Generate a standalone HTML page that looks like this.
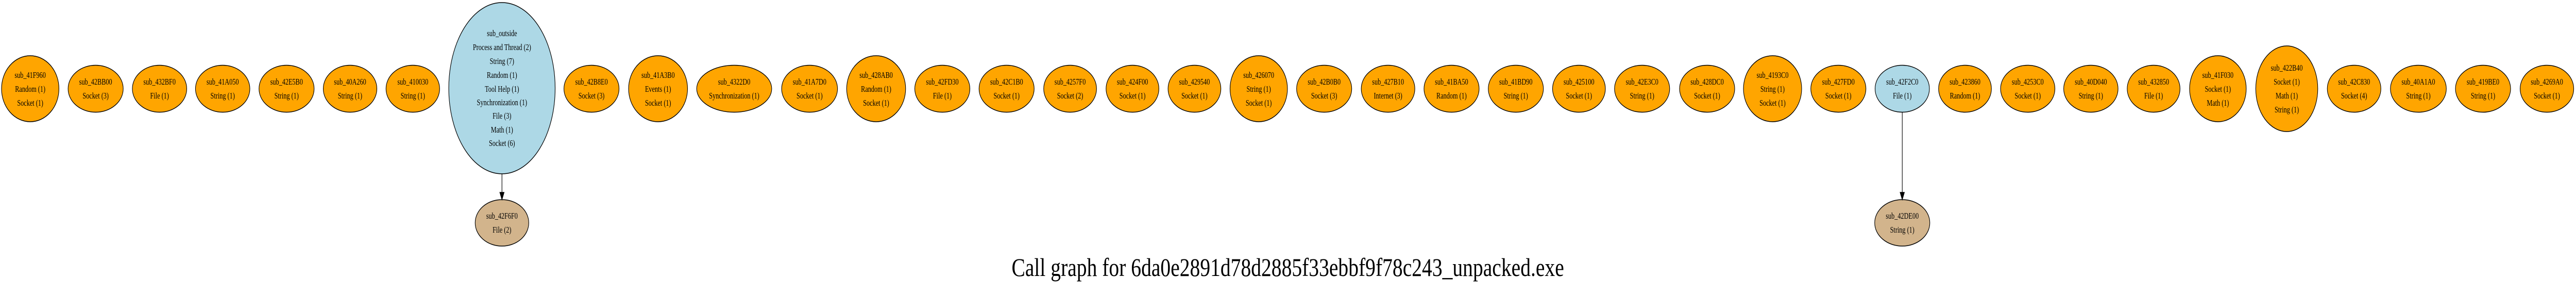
<!DOCTYPE html>
<html><head><meta charset="utf-8"><style>html,body{margin:0;padding:0;background:#fff;width:100%;height:100%;overflow:hidden;}svg{display:block;width:100vw;height:100vh;}</style></head>
<body>
<svg xmlns="http://www.w3.org/2000/svg" viewBox="0 0 6733 568" preserveAspectRatio="none" font-family="'Liberation Serif', serif" font-size="16.5" text-anchor="middle">
<rect width="6733" height="568" fill="#fff"/>
<g stroke="#000" stroke-width="1.5">
<ellipse cx="79" cy="172" rx="75" ry="64" fill="#FFA500"/>
<ellipse cx="250" cy="172" rx="72" ry="45.5" fill="#FFA500"/>
<ellipse cx="417" cy="172" rx="71" ry="45.5" fill="#FFA500"/>
<ellipse cx="582" cy="172" rx="71" ry="45.5" fill="#FFA500"/>
<ellipse cx="749" cy="172" rx="72" ry="45.5" fill="#FFA500"/>
<ellipse cx="915" cy="172" rx="70" ry="45.5" fill="#FFA500"/>
<ellipse cx="1079" cy="172" rx="70" ry="45.5" fill="#FFA500"/>
<ellipse cx="1312" cy="171" rx="139" ry="166" fill="#ADD8E6"/>
<ellipse cx="1312" cy="432" rx="70" ry="45" fill="#D2B48C"/>
<ellipse cx="1546" cy="172" rx="72" ry="45.5" fill="#FFA500"/>
<ellipse cx="1720" cy="172" rx="77" ry="64" fill="#FFA500"/>
<ellipse cx="1919" cy="172" rx="98" ry="45.5" fill="#FFA500"/>
<ellipse cx="2116" cy="172" rx="73" ry="45.5" fill="#FFA500"/>
<ellipse cx="2290" cy="172" rx="77" ry="64" fill="#FFA500"/>
<ellipse cx="2463" cy="172" rx="72" ry="45.5" fill="#FFA500"/>
<ellipse cx="2631" cy="172" rx="72" ry="45.5" fill="#FFA500"/>
<ellipse cx="2797" cy="172" rx="69" ry="45.5" fill="#FFA500"/>
<ellipse cx="2960" cy="172" rx="69" ry="45.5" fill="#FFA500"/>
<ellipse cx="3122" cy="172" rx="69" ry="45.5" fill="#FFA500"/>
<ellipse cx="3290" cy="172" rx="75" ry="64" fill="#FFA500"/>
<ellipse cx="3461" cy="172" rx="72" ry="45.5" fill="#FFA500"/>
<ellipse cx="3628" cy="172" rx="70" ry="45.5" fill="#FFA500"/>
<ellipse cx="3794" cy="172" rx="72" ry="45.5" fill="#FFA500"/>
<ellipse cx="3962" cy="172" rx="72" ry="45.5" fill="#FFA500"/>
<ellipse cx="4127" cy="172" rx="69" ry="45.5" fill="#FFA500"/>
<ellipse cx="4292" cy="172" rx="72" ry="45.5" fill="#FFA500"/>
<ellipse cx="4462" cy="172" rx="72" ry="45.5" fill="#FFA500"/>
<ellipse cx="4633" cy="172" rx="76" ry="64" fill="#FFA500"/>
<ellipse cx="4805" cy="172" rx="72" ry="45.5" fill="#FFA500"/>
<ellipse cx="4972" cy="172" rx="71" ry="45.5" fill="#ADD8E6"/>
<ellipse cx="4972" cy="432" rx="72" ry="45" fill="#D2B48C"/>
<ellipse cx="5136" cy="172" rx="69" ry="45.5" fill="#FFA500"/>
<ellipse cx="5300" cy="172" rx="71" ry="45.5" fill="#FFA500"/>
<ellipse cx="5465" cy="172" rx="71" ry="45.5" fill="#FFA500"/>
<ellipse cx="5629" cy="172" rx="69" ry="45.5" fill="#FFA500"/>
<ellipse cx="5797" cy="172" rx="74" ry="64" fill="#FFA500"/>
<ellipse cx="5977" cy="172" rx="81" ry="83" fill="#FFA500"/>
<ellipse cx="6153" cy="172" rx="70" ry="45.5" fill="#FFA500"/>
<ellipse cx="6321" cy="172" rx="73" ry="45.5" fill="#FFA500"/>
<ellipse cx="6490" cy="172" rx="72" ry="45.5" fill="#FFA500"/>
<ellipse cx="6657" cy="172" rx="70" ry="45.5" fill="#FFA500"/>
<line x1="1312" y1="337" x2="1312" y2="373"/>
<polygon points="1306.5,373 1317.5,373 1312,387" fill="#000"/>
<line x1="4972" y1="217" x2="4972" y2="373"/>
<polygon points="4966.5,373 4977.5,373 4972,387" fill="#000"/>
</g>
<g fill="#000">
<text x="79" y="151">sub_41F960</text><text x="79" y="178">Random (1)</text><text x="79" y="205">Socket (1)</text>
<text x="250" y="164">sub_42BB00</text><text x="250" y="191">Socket (3)</text>
<text x="417" y="164">sub_432BF0</text><text x="417" y="191">File (1)</text>
<text x="582" y="164">sub_41A050</text><text x="582" y="191">String (1)</text>
<text x="749" y="164">sub_42E5B0</text><text x="749" y="191">String (1)</text>
<text x="915" y="164">sub_40A260</text><text x="915" y="191">String (1)</text>
<text x="1079" y="164">sub_410030</text><text x="1079" y="191">String (1)</text>
<text x="1312" y="70">sub_outside</text><text x="1312" y="97">Process and Thread (2)</text><text x="1312" y="124">String (7)</text><text x="1312" y="151">Random (1)</text><text x="1312" y="178">Tool Help (1)</text><text x="1312" y="204">Synchronization (1)</text><text x="1312" y="230">File (3)</text><text x="1312" y="257">Math (1)</text><text x="1312" y="283">Socket (6)</text>
<text x="1312" y="424">sub_42F6F0</text><text x="1312" y="451">File (2)</text>
<text x="1546" y="164">sub_42B8E0</text><text x="1546" y="191">Socket (3)</text>
<text x="1720" y="151">sub_41A3B0</text><text x="1720" y="178">Events (1)</text><text x="1720" y="205">Socket (1)</text>
<text x="1919" y="164">sub_4322D0</text><text x="1919" y="191">Synchronization (1)</text>
<text x="2116" y="164">sub_41A7D0</text><text x="2116" y="191">Socket (1)</text>
<text x="2290" y="151">sub_428AB0</text><text x="2290" y="178">Random (1)</text><text x="2290" y="205">Socket (1)</text>
<text x="2463" y="164">sub_42FD30</text><text x="2463" y="191">File (1)</text>
<text x="2631" y="164">sub_42C1B0</text><text x="2631" y="191">Socket (1)</text>
<text x="2797" y="164">sub_4257F0</text><text x="2797" y="191">Socket (2)</text>
<text x="2960" y="164">sub_424F00</text><text x="2960" y="191">Socket (1)</text>
<text x="3122" y="164">sub_429540</text><text x="3122" y="191">Socket (1)</text>
<text x="3290" y="151">sub_426070</text><text x="3290" y="178">String (1)</text><text x="3290" y="205">Socket (1)</text>
<text x="3461" y="164">sub_42B0B0</text><text x="3461" y="191">Socket (3)</text>
<text x="3628" y="164">sub_427B10</text><text x="3628" y="191">Internet (3)</text>
<text x="3794" y="164">sub_41BA50</text><text x="3794" y="191">Random (1)</text>
<text x="3962" y="164">sub_41BD90</text><text x="3962" y="191">String (1)</text>
<text x="4127" y="164">sub_425100</text><text x="4127" y="191">Socket (1)</text>
<text x="4292" y="164">sub_42E3C0</text><text x="4292" y="191">String (1)</text>
<text x="4462" y="164">sub_428DC0</text><text x="4462" y="191">Socket (1)</text>
<text x="4633" y="151">sub_4193C0</text><text x="4633" y="178">String (1)</text><text x="4633" y="205">Socket (1)</text>
<text x="4805" y="164">sub_427FD0</text><text x="4805" y="191">Socket (1)</text>
<text x="4972" y="164">sub_42F2C0</text><text x="4972" y="191">File (1)</text>
<text x="4972" y="424">sub_42DE00</text><text x="4972" y="451">String (1)</text>
<text x="5136" y="164">sub_423860</text><text x="5136" y="191">Random (1)</text>
<text x="5300" y="164">sub_4253C0</text><text x="5300" y="191">Socket (1)</text>
<text x="5465" y="164">sub_40D040</text><text x="5465" y="191">String (1)</text>
<text x="5629" y="164">sub_432850</text><text x="5629" y="191">File (1)</text>
<text x="5797" y="151">sub_41F030</text><text x="5797" y="178">Socket (1)</text><text x="5797" y="205">Math (1)</text>
<text x="5977" y="137">sub_422B40</text><text x="5977" y="164">Socket (1)</text><text x="5977" y="191">Math (1)</text><text x="5977" y="218">String (1)</text>
<text x="6153" y="164">sub_42C830</text><text x="6153" y="191">Socket (4)</text>
<text x="6321" y="164">sub_40A1A0</text><text x="6321" y="191">String (1)</text>
<text x="6490" y="164">sub_419BE0</text><text x="6490" y="191">String (1)</text>
<text x="6657" y="164">sub_4269A0</text><text x="6657" y="191">Socket (1)</text>
<text x="3366" y="535" font-size="50" textLength="1444" lengthAdjust="spacingAndGlyphs">Call graph for 6da0e2891d78d2885f33ebbf9f78c243_unpacked.exe</text>
</g>
</svg>
</body></html>
